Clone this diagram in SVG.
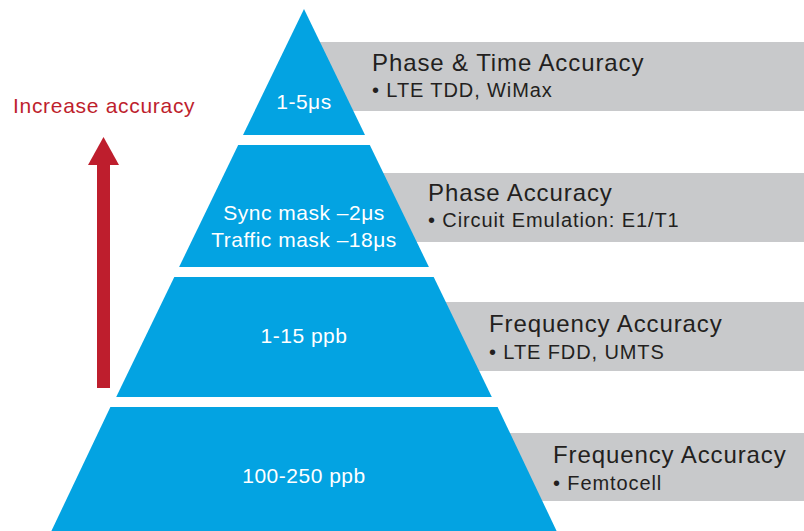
<svg xmlns="http://www.w3.org/2000/svg" width="804" height="531" viewBox="0 0 804 531">
  <style>
    .tier { fill: #03a3e2; }
    .box { fill: #c8c9cb; }
    .in { font-family: "Liberation Sans", Arial, sans-serif; font-size: 21px; fill: #ffffff; text-anchor: middle; letter-spacing: 0.5px; }
    .title { font-family: "Liberation Sans", Arial, sans-serif; font-size: 24px; fill: #231f20; letter-spacing: 0.9px; }
    .bullet { font-family: "Liberation Sans", Arial, sans-serif; font-size: 20px; fill: #231f20; letter-spacing: 0.9px; }
    .red { font-family: "Liberation Sans", Arial, sans-serif; font-size: 21px; fill: #be1e2d; letter-spacing: 0.7px; }
  </style>
  <rect width="804" height="531" fill="#ffffff"/>

  <g id="label-boxes">
    <g id="box1">
      <rect class="box" x="310" y="42" width="494" height="69"/>
      <text class="title" x="372" y="71">Phase &amp; Time Accuracy</text>
      <text class="bullet" x="372" y="97">• LTE TDD, WiMax</text>
    </g>
    <g id="box2">
      <rect class="box" x="370" y="173" width="434" height="69"/>
      <text class="title" x="428" y="201">Phase Accuracy</text>
      <text class="bullet" x="428" y="227">• Circuit Emulation: E1/T1</text>
    </g>
    <g id="box3">
      <rect class="box" x="430" y="302" width="374" height="69"/>
      <text class="title" x="489" y="332">Frequency Accuracy</text>
      <text class="bullet" x="489" y="359">• LTE FDD, UMTS</text>
    </g>
    <g id="box4">
      <rect class="box" x="500" y="433" width="304" height="68"/>
      <text class="title" x="553" y="463">Frequency Accuracy</text>
      <text class="bullet" x="553" y="490">• Femtocell</text>
    </g>
  </g>

  <g id="tier1">
    <polygon class="tier" points="304,9 243,135 365,135"/>
    <text class="in" x="304" y="109">1-5μs</text>
  </g>
  <g id="tier2">
    <polygon class="tier" points="238.2,145 369.8,145 428.9,267 179.1,267"/>
    <text class="in" x="304" y="220">Sync mask –2μs</text>
    <text class="in" x="304" y="247">Traffic mask –18μs</text>
  </g>
  <g id="tier3">
    <polygon class="tier" points="174.3,277 433.7,277 491.8,397 116.2,397"/>
    <text class="in" x="304" y="343">1-15 ppb</text>
  </g>
  <g id="tier4">
    <polygon class="tier" points="110.4,407 497.6,407 556.6,531 51.4,531"/>
    <text class="in" x="304" y="483">100-250 ppb</text>
  </g>

  <g id="accuracy-arrow">
    <text class="red" x="13" y="113">Increase accuracy</text>
    <rect x="97" y="164" width="13" height="224" fill="#be1e2d"/>
    <polygon points="103.5,137 88,165 119,165" fill="#be1e2d"/>
  </g>
</svg>
